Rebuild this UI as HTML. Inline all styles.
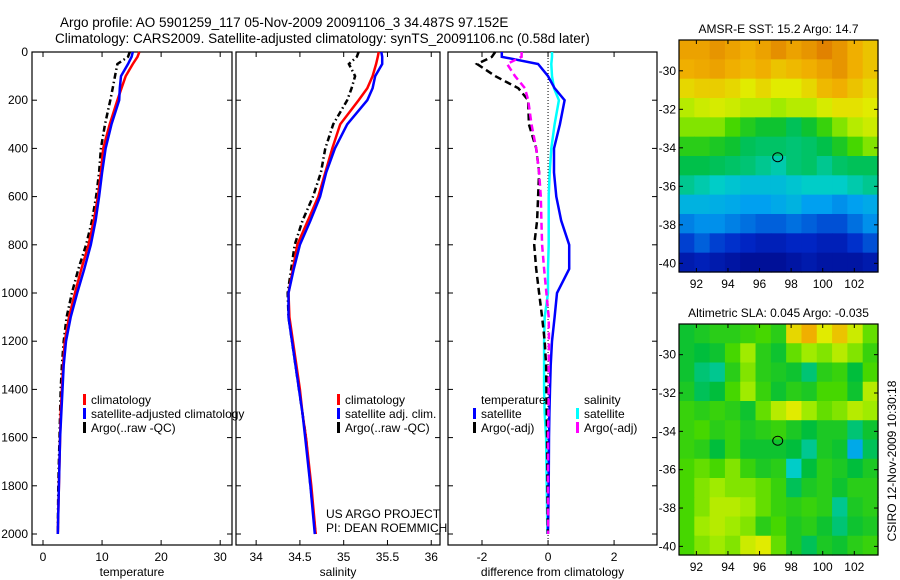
<!DOCTYPE html>
<html><head><meta charset="utf-8"><style>
html,body{margin:0;padding:0;background:#fff;}
svg{display:block;font-family:"Liberation Sans",sans-serif;}
</style></head><body>
<svg id="fig" width="900" height="580" viewBox="0 0 900 580" xmlns="http://www.w3.org/2000/svg">
<text x="60" y="27" font-size="13.5">Argo profile: AO 5901259_117 05-Nov-2009 20091106_3 34.487S 97.152E</text>
<text x="55" y="43" font-size="13.5">Climatology: CARS2009. Satellite-adjusted climatology: synTS_20091106.nc (0.58d later)</text>
<g id="plots"></g>
</svg>
<script>
// ---- data ----
const depths=[0,20,50,100,150,200,300,400,500,600,700,800,900,1000,1100,1200,1300,1400,1500,1600,1800,2000];
const tClim=[16.3,16.0,15.2,14.0,13.3,12.6,11.3,10.2,9.8,9.3,8.6,7.7,6.5,5.4,4.4,3.7,3.4,3.2,3.0,2.9,2.7,2.5];
const tSat=[15.2,15.0,14.4,13.2,13.0,12.9,11.6,10.6,10.0,9.5,8.9,8.1,7.0,5.8,4.7,3.9,3.5,3.3,3.1,2.9,2.7,2.5];
const tArgo=[14.7,14.4,12.6,12.2,11.8,11.4,10.5,9.8,9.5,9.0,8.3,7.3,6.0,4.9,4.0,3.5,3.2,3.0,2.9,2.8,2.6,2.5];
const sClim=[35.40,35.39,35.37,35.33,35.27,35.17,34.96,34.87,34.79,34.71,34.59,34.47,34.42,34.37,34.38,34.42,34.46,34.50,34.53,34.57,34.63,34.68];
const sSat=[35.43,35.44,35.44,35.36,35.33,35.27,35.04,34.90,34.80,34.73,34.62,34.50,34.43,34.37,34.37,34.41,34.45,34.49,34.53,34.56,34.62,34.67];
const sArgo=[35.17,35.15,35.06,35.13,35.09,35.04,34.88,34.79,34.74,34.65,34.53,34.44,34.40,34.36,34.37,34.41,34.45,34.49,34.53,34.57,34.62,34.68];
const dTSat=[-1.4,-1.4,-0.3,0.0,0.2,0.5,0.36,0.18,0.18,0.25,0.4,0.64,0.64,0.27,0.2,0.12,0.08,0.06,0.04,0.03,0.02,0.0];
const dSSat=[0.12,0.12,0.1,0.12,0.18,0.33,0.2,0.1,0.05,0.02,0.02,0.02,0.0,0.0,-0.1,-0.12,-0.12,-0.12,-0.1,-0.06,-0.04,-0.02];
const dTArgo=[-1.6,-1.7,-2.15,-1.6,-0.9,-0.6,-0.58,-0.36,-0.27,-0.3,-0.33,-0.42,-0.36,-0.27,-0.18,-0.1,-0.06,-0.05,-0.04,-0.03,-0.02,-0.01];
const dSArgo=[-0.8,-0.8,-1.24,-1.0,-0.7,-0.6,-0.5,-0.36,-0.27,-0.22,-0.2,-0.18,-0.12,-0.05,0.02,0.03,0.02,0.02,0.01,0.0,0.0,0.0];
const depthTicks=[0,200,400,600,800,1000,1200,1400,1600,1800,2000];
const tTicks=[0,10,20,30];
const sTicks=[34,34.5,35,35.5,36];
const dTicks=[-2,0,2];
const latTicks=[-30,-32,-34,-36,-38,-40];
const lonTicks=[92,94,96,98,100,102];
const sstGrid=[
[0.80,0.80,0.82,0.80,0.78,0.80,0.83,0.80,0.82,0.85,0.82,0.78,0.76],
[0.78,0.79,0.80,0.78,0.77,0.78,0.76,0.77,0.78,0.80,0.82,0.78,0.76],
[0.74,0.75,0.75,0.74,0.72,0.74,0.72,0.72,0.74,0.77,0.78,0.76,0.74],
[0.68,0.70,0.71,0.70,0.68,0.68,0.66,0.68,0.68,0.71,0.73,0.73,0.72],
[0.64,0.64,0.64,0.60,0.55,0.52,0.52,0.48,0.52,0.58,0.64,0.68,0.70],
[0.56,0.56,0.54,0.52,0.48,0.47,0.47,0.46,0.47,0.49,0.54,0.60,0.64],
[0.49,0.49,0.48,0.47,0.46,0.44,0.42,0.46,0.47,0.44,0.47,0.48,0.48],
[0.44,0.42,0.40,0.38,0.36,0.36,0.36,0.38,0.40,0.40,0.40,0.42,0.44],
[0.34,0.34,0.33,0.32,0.30,0.30,0.32,0.34,0.30,0.30,0.28,0.30,0.32],
[0.26,0.28,0.28,0.26,0.24,0.22,0.22,0.24,0.22,0.20,0.20,0.24,0.28],
[0.18,0.22,0.18,0.16,0.14,0.12,0.12,0.14,0.14,0.12,0.12,0.16,0.20],
[0.10,0.12,0.10,0.08,0.06,0.06,0.06,0.08,0.10,0.08,0.08,0.08,0.10]];
const slaGrid=[
[0.52,0.54,0.56,0.56,0.58,0.60,0.56,0.74,0.78,0.72,0.76,0.70,0.62],
[0.52,0.50,0.52,0.60,0.66,0.56,0.52,0.62,0.66,0.64,0.68,0.64,0.58],
[0.52,0.46,0.44,0.56,0.64,0.56,0.54,0.52,0.46,0.56,0.58,0.50,0.60],
[0.54,0.48,0.50,0.60,0.66,0.58,0.52,0.56,0.54,0.60,0.60,0.52,0.68],
[0.58,0.56,0.58,0.56,0.52,0.62,0.68,0.72,0.66,0.62,0.64,0.68,0.66],
[0.58,0.60,0.56,0.58,0.54,0.56,0.58,0.54,0.50,0.54,0.54,0.46,0.52],
[0.58,0.56,0.50,0.58,0.52,0.52,0.52,0.50,0.44,0.54,0.52,0.32,0.48],
[0.60,0.62,0.60,0.64,0.58,0.54,0.56,0.40,0.50,0.56,0.54,0.50,0.54],
[0.60,0.64,0.66,0.64,0.64,0.62,0.58,0.48,0.54,0.56,0.52,0.56,0.56],
[0.60,0.64,0.68,0.68,0.66,0.62,0.58,0.56,0.58,0.56,0.44,0.54,0.56],
[0.60,0.66,0.68,0.66,0.64,0.56,0.60,0.54,0.56,0.52,0.46,0.52,0.54],
[0.60,0.64,0.66,0.64,0.70,0.72,0.62,0.54,0.48,0.54,0.52,0.56,0.58]];
const floatLon=[97.15];
const floatLat=[-34.49];

// ---- drawing ----
const NS='http://www.w3.org/2000/svg';
const G=document.getElementById('plots');
function mk(tag,attrs,parent){const e=document.createElementNS(NS,tag);for(const k in attrs)e.setAttribute(k,attrs[k]);(parent||G).appendChild(e);return e;}
const Y0=52,Y1=545;
const yD=d=>Y0+d*0.241;
function panel(name,x0,x1,vmin,vmax,ticks,label,showY){
  const xs=v=>x0+(v-vmin)/(vmax-vmin)*(x1-x0);
  const g=mk('g',{});
  
  
  const r=mk('rect',{x:x0,y:Y0,width:x1-x0,height:Y1-Y0,fill:'none',stroke:'#000','stroke-width':1.2},g);
  
  
  ticks.forEach(t=>{const x=xs(t);
    mk('line',{x1:x,x2:x,y1:Y1,y2:Y1-5,stroke:'#000'},g);
    mk('line',{x1:x,x2:x,y1:Y0,y2:Y0+5,stroke:'#000'},g);
    const tl=mk('text',{x:x,y:Y1+16,'font-size':12,'text-anchor':'middle'},g);tl.textContent=String(t);
    
    });
  depthTicks.forEach(d=>{const y=yD(d);
    mk('line',{x1:x0,x2:x0+5,y1:y,y2:y,stroke:'#000'},g);
    mk('line',{x1:x1,x2:x1-5,y1:y,y2:y,stroke:'#000'},g);
    if(showY){const tl=mk('text',{x:x0-4,y:y+4,'font-size':12,'text-anchor':'end'},g);tl.textContent=String(d);
      
      }});
  const al=mk('text',{x:(x0+x1)/2,y:576,'font-size':12,'text-anchor':'middle'},g);al.textContent=label;
  
  
  return {g,xs};
}
function line(p,vals,color,dash,w,name){
  const pts=vals.map((v,i)=>p.xs(v).toFixed(1)+','+yD(depths[i]).toFixed(1)).join(' ');
  const e=mk('polyline',{points:pts,fill:'none',stroke:color,'stroke-width':w,'stroke-dasharray':dash||'none'},p.g);
  
  
}
function legend(g,items,x,y){
  items.forEach((it,i)=>{
    if(it.c){const m=mk('rect',{x:x,y:y+i*14-10,width:3,height:11,fill:it.c},g);
      
      }
    const t=mk('text',{x:x+8,y:y+i*14,'font-size':12},g);t.textContent=it.t;
    
    });
}
// Temperature
const pT=panel('temperature-panel',32,232,-1.86,32,tTicks,'temperature',true);
line(pT,tArgo,'#000','6,3,1.5,3',2.5,'argo-temperature-line');
line(pT,tClim,'#f00','',2.5,'climatology-temperature-line');
line(pT,tSat,'#00f','',2.5,'satellite-temperature-line');
legend(pT.g,[{c:'#f00',t:'climatology'},{c:'#00f',t:'satellite-adjusted climatology'},{c:'#000',t:'Argo(..raw -QC)'}],83,404);
// Salinity
const pS=panel('salinity-panel',236,440,33.77,36.1,sTicks,'salinity',false);
line(pS,sArgo,'#000','6,3,1.5,3',2.5,'argo-salinity-line');
line(pS,sClim,'#f00','',2.5,'climatology-salinity-line');
line(pS,sSat,'#00f','',2.5,'satellite-salinity-line');
legend(pS.g,[{c:'#f00',t:'climatology'},{c:'#00f',t:'satellite adj. clim.'},{c:'#000',t:'Argo(..raw -QC)'}],337,404);
[['US ARGO PROJECT',518],['PI: DEAN ROEMMICH',532]].forEach(a=>{const t=mk('text',{x:326,y:a[1],'font-size':12});t.textContent=a[0];
  
  });
// Difference
const pD=panel('difference-panel',448,657,-3.03,3.3,dTicks,'difference from climatology',false);
mk('line',{x1:pD.xs(0),x2:pD.xs(0),y1:Y0,y2:Y1,stroke:'#000','stroke-dasharray':'1,2'},pD.g);
line(pD,dSSat,'#0ff','',2.5,'salinity-satellite-diff-line');
line(pD,dTSat,'#00f','',2.5,'temperature-satellite-diff-line');
line(pD,dTArgo,'#000','7,4',2.5,'temperature-argo-diff-line');
line(pD,dSArgo,'#f0f','7,4',2.5,'salinity-argo-diff-line');
legend(pD.g,[{t:'temperature'},{c:'#00f',t:'satellite'},{c:'#000',t:'Argo(-adj)'}],473,404);
legend(pD.g,[{t:'salinity'},{c:'#0ff',t:'satellite'},{c:'#f0f',t:'Argo(-adj)'}],576,404);

// Maps
const cmapStops=[[0,[0,0,120]],[0.15,[0,40,200]],[0.3,[0,160,240]],[0.4,[0,205,200]],[0.5,[0,190,60]],[0.6,[70,215,0]],[0.66,[160,235,0]],[0.72,[225,235,0]],[0.78,[240,175,0]],[0.85,[225,130,0]],[1,[200,70,0]]];
function cmap(v){for(let i=1;i<cmapStops.length;i++){if(v<=cmapStops[i][0]){const a=cmapStops[i-1],b=cmapStops[i],f=(v-a[0])/(b[0]-a[0]);return 'rgb('+a[1].map((c,k)=>Math.round(c+(b[1][k]-c)*f)).join(',')+')';}}return 'rgb(200,70,0)';}
function map(name,grid,top,bot,title){
  const x0=679,x1=878,lonMin=90.9,lonMax=103.5;
  const latTop=-28.4,latBot=-40.45;
  const xs=l=>x0+(l-lonMin)/(lonMax-lonMin)*(x1-x0);
  const ys=l=>top+(latTop-l)/(latTop-latBot)*(bot-top);
  const g=mk('g',{});
  
  
  const rows=grid.length,cols=grid[0].length,cw=(x1-x0)/cols,ch=(bot-top)/rows;
  grid.forEach((row,r)=>row.forEach((v,c)=>{
    const cell=mk('rect',{x:(x0+c*cw).toFixed(2),y:(top+r*ch).toFixed(2),width:(cw+0.6).toFixed(2),height:(ch+0.6).toFixed(2),fill:cmap(v)},g);
    
    }));
  mk('rect',{x:x0,y:top,width:x1-x0,height:bot-top,fill:'none',stroke:'#000','stroke-width':1.2},g);
  latTicks.forEach(l=>{const y=ys(l);
    mk('line',{x1:x0,x2:x0+4,y1:y,y2:y,stroke:'#000'},g);
    mk('line',{x1:x1,x2:x1-4,y1:y,y2:y,stroke:'#000'},g);
    const t=mk('text',{x:x0-3,y:y+4,'font-size':12,'text-anchor':'end'},g);t.textContent=String(l);
    
    });
  lonTicks.forEach(l=>{const x=xs(l);
    mk('line',{x1:x,x2:x,y1:bot,y2:bot-4,stroke:'#000'},g);
    mk('line',{x1:x,x2:x,y1:top,y2:top+4,stroke:'#000'},g);
    const t=mk('text',{x:x,y:bot+16,'font-size':12,'text-anchor':'middle'},g);t.textContent=String(l);
    
    });
  const c=mk('ellipse',{cx:xs(floatLon[0]),cy:ys(floatLat[0]),rx:5,ry:4.5,fill:'none',stroke:'#000','stroke-width':1},g);
  
  
  const t=mk('text',{x:(x0+x1)/2,y:top-7,'font-size':12,'text-anchor':'middle'},g);t.textContent=title;
  
  
}
map('sst-map',sstGrid,40,272,'AMSR-E SST: 15.2 Argo: 14.7');
map('sla-map',slaGrid,324,555,'Altimetric SLA: 0.045 Argo: -0.035');
const cs=mk('text',{x:0,y:0,'font-size':12,'text-anchor':'middle',transform:'translate(896,461) rotate(-90)'});
cs.textContent='CSIRO 12-Nov-2009 10:30:18';


</script>
</body></html>
